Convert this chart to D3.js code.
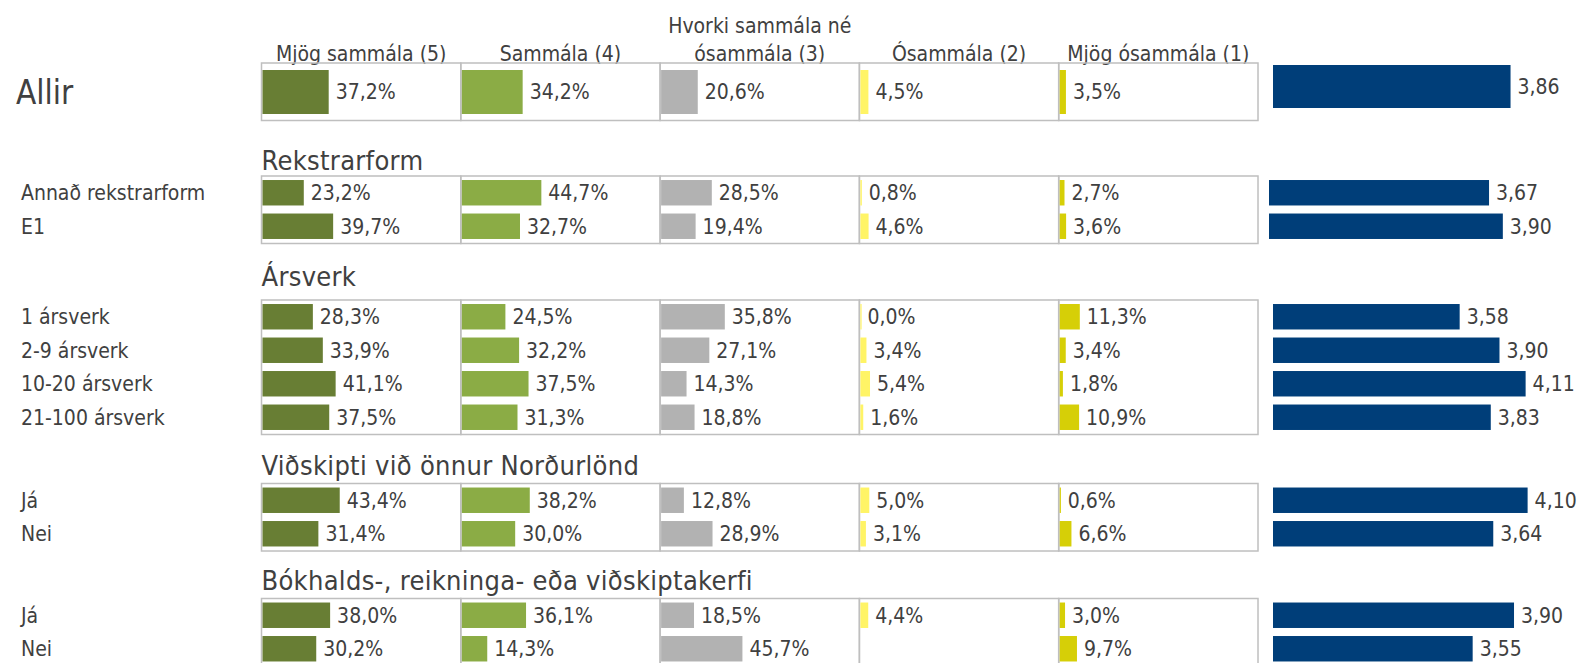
<!DOCTYPE html>
<html>
<head>
<meta charset="utf-8">
<script src="https://cdn.jsdelivr.net/npm/d3@7"></script>
<style>
  body { margin: 0; background: #fff; }
  svg text { font-family: "Liberation Sans Narrow", "DejaVu Sans Condensed", sans-serif; fill: #404040; }
</style>
</head>
<body>
<svg id="chart" width="1582" height="663"></svg>
<script>
// Column headers (answer scale)
const answerHeaders = [
  ["Mjög sammála (5)"],
  ["Sammála (4)"],
  ["Hvorki sammála né", "ósammála (3)"],
  ["Ósammála (2)"],
  ["Mjög ósammála (1)"]
];

// Groups and their rows
const groupNames = ["Allir", "Rekstrarform", "Ársverk", "Viðskipti við önnur Norðurlönd", "Bókhalds-, reikninga- eða viðskiptakerfi"];
const groupSizes = [1, 2, 4, 2, 2];
const rowLabels = ["Allir", "Annað rekstrarform", "E1", "1 ársverk", "2-9 ársverk", "10-20 ársverk", "21-100 ársverk", "Já", "Nei", "Já", "Nei"];

// Percentages per answer
const mjogSammala  = [37.2, 23.2, 39.7, 28.3, 33.9, 41.1, 37.5, 43.4, 31.4, 38.0, 30.2];
const sammala      = [34.2, 44.7, 32.7, 24.5, 32.2, 37.5, 31.3, 38.2, 30.0, 36.1, 14.3];
const hvorki       = [20.6, 28.5, 19.4, 35.8, 27.1, 14.3, 18.8, 12.8, 28.9, 18.5, 45.7];
const osammala     = [4.5, 0.8, 4.6, 0.0, 3.4, 5.4, 1.6, 5.0, 3.1, 4.4, null];
const mjogOsammala = [3.5, 2.7, 3.6, 11.3, 3.4, 1.8, 10.9, 0.6, 6.6, 3.0, 9.7];

// Mean score (1-5)
const medaltal = [3.86, 3.67, 3.90, 3.58, 3.90, 4.11, 3.83, 4.10, 3.64, 3.90, 3.55];
// axis bounds of the mean chart in each group (each block had its own axis)
const meanAxisMin = [0, 0, 2.08, 0.69, 1.86];
const meanAxisMax = [4.55, 4.67, 4.33, 4.44, 4.23];

const series = [mjogSammala, sammala, hvorki, osammala, mjogOsammala];
const colors = ["#687e34", "#8bac45", "#b2b2b2", "#fff466", "#d6cf07"];
const blue = "#003e79";

// layout
const panelX0 = 261.5, panelW = 199.3;
const blueX0 = [1273, 1269, 1273, 1273, 1273], blueW = 280;
const groupTops = [63, 176, 300, 483.5, 598.5];
const headingGap = [0, 6, 14, 9, 9];
const rowStep = 33.5;

const svg = d3.select("#chart");

const x = d3.scaleLinear().domain([0, 112]).range([0, panelW]);
const fmt = v => d3.format(".1f")(v).replace(".", ",");
const fmt2 = v => d3.format(".2f")(v).replace(".", ",");

// headers
answerHeaders.forEach((lines, i) => {
  const cx = panelX0 + panelW * (i + 0.5);
  lines.forEach((line, j) => {
    svg.append("text")
      .attr("x", cx)
      .attr("y", 61 - (lines.length - 1 - j) * 28.5)
      .attr("text-anchor", "middle")
      .attr("font-size", 21)
      .text(line);
  });
});

let rowIndex = 0;
groupNames.forEach((g, gi) => {
  const n = groupSizes[gi];
  const idx = d3.range(rowIndex, rowIndex + n);
  rowIndex += n;
  const top = groupTops[gi];
  const isAll = gi === 0;
  const boxH = isAll ? 57.5 : n * rowStep + 0.5;

  const y = d3.scaleBand()
    .domain(idx)
    .range([top, top + n * rowStep])
    .paddingInner(0.24)
    .paddingOuter(0.12);
  const barY = i => isAll ? top + 7 : y(i);
  const barH = isAll ? 44 : y.bandwidth();

  // group heading
  if (!isAll) {
    svg.append("text")
      .attr("x", panelX0)
      .attr("y", top - headingGap[gi])
      .attr("font-size", 27)
      .attr("letter-spacing", 0.3)
      .text(g);
  }

  // panel boxes
  for (let p = 0; p < 5; p++) {
    svg.append("rect")
      .attr("x", panelX0 + p * panelW)
      .attr("y", top)
      .attr("width", panelW)
      .attr("height", boxH)
      .attr("fill", "none")
      .attr("stroke", "#bfbfbf")
      .attr("stroke-width", 1.5);
  }

  // row labels
  idx.forEach(i => {
    svg.append("text")
      .attr("x", isAll ? 16 : 21)
      .attr("y", barY(i) + barH / 2)
      .attr("dy", "0.35em")
      .attr("font-size", isAll ? 33 : 21)
      .text(rowLabels[i]);
  });

  // percentage bars
  series.forEach((s, si) => {
    const px = panelX0 + si * panelW + 1;
    idx.forEach(i => {
      const v = s[i];
      if (v === null) return;
      svg.append("rect")
        .attr("x", px)
        .attr("y", barY(i))
        .attr("width", Math.max(x(v), 1.2))
        .attr("height", barH)
        .attr("fill", colors[si]);
      svg.append("text")
        .attr("x", px + x(v) + 7)
        .attr("y", barY(i) + barH / 2)
        .attr("dy", "0.35em")
        .attr("font-size", 21)
        .text(fmt(v) + "%");
    });
  });

  // mean bars
  const m = d3.scaleLinear().domain([meanAxisMin[gi], meanAxisMax[gi]]).range([0, blueW]);
  const my = i => isAll ? top + 2 : y(i);
  const mh = isAll ? 43 : y.bandwidth();
  const bx = blueX0[gi];
  idx.forEach(i => {
    svg.append("rect")
      .attr("x", bx)
      .attr("y", my(i))
      .attr("width", m(medaltal[i]))
      .attr("height", mh)
      .attr("fill", blue);
    svg.append("text")
      .attr("x", bx + m(medaltal[i]) + 7)
      .attr("y", my(i) + mh / 2)
      .attr("dy", "0.35em")
      .attr("font-size", 21)
      .text(fmt2(medaltal[i]));
  });
});
</script>
</body>
</html>
